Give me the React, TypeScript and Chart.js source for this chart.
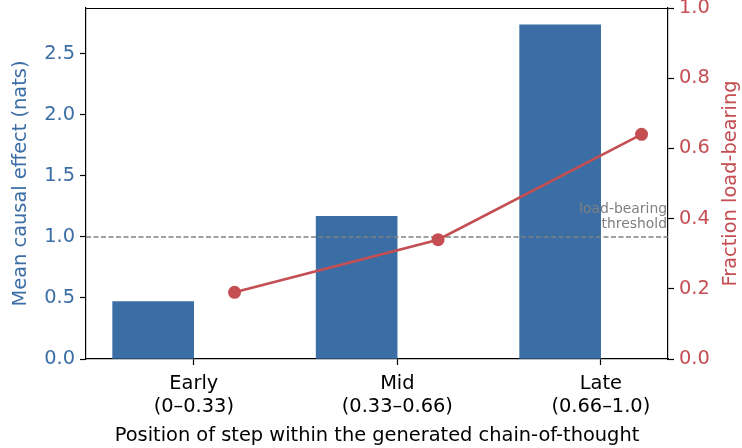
import React, { useEffect, useRef } from "react";
import { Chart, registerables } from "chart.js";

Chart.register(...registerables);

const categories = ["Early", "Mid", "Late"];
const ranges = ["(0–0.33)", "(0.33–0.66)", "(0.66–1.0)"];
const meanEffect = [0.47, 1.17, 2.74];
const fractionLoadBearing = [0.19, 0.34, 0.64];
const leftTicks = [0, 0.5, 1.0, 1.5, 2.0, 2.5];
const rightTicks = [0, 0.2, 0.4, 0.6, 0.8, 1.0];
const threshold = 1.0;
const thresholdLabel = ["load-bearing", "threshold"];

const BLUE = "#3b6ea5";
const RED = "#c44e52";
const GRAY = "#808080";
const FONT = "'DejaVu Sans', sans-serif";
const X_MIN = -0.53;
const X_MAX = 2.33;
const Y_MAX = 2.877;

export default function App() {
  const ref = useRef<HTMLCanvasElement | null>(null);

  useEffect(() => {
    const canvas = ref.current;
    if (!canvas) return;

    const extras = {
      id: "extras",
      afterDraw(chart: any) {
        const { ctx, chartArea } = chart;
        const ys = chart.scales.y;
        ctx.save();
        // top spine
        ctx.strokeStyle = "#000";
        ctx.lineWidth = 1.2;
        ctx.beginPath();
        ctx.moveTo(chartArea.left, chartArea.top + 0.5);
        ctx.lineTo(chartArea.right, chartArea.top + 0.5);
        ctx.stroke();
        // threshold annotation
        const ty = ys.getPixelForValue(threshold);
        ctx.fillStyle = GRAY;
        ctx.font = `13.9px ${FONT}`;
        ctx.textAlign = "right";
        ctx.textBaseline = "middle";
        ctx.fillText(thresholdLabel[0], chartArea.right - 1, ty - 28);
        ctx.fillText(thresholdLabel[1], chartArea.right - 1, ty - 13);
        // right axis title (rotated like matplotlib)
        ctx.fillStyle = RED;
        ctx.font = `19.4px ${FONT}`;
        ctx.textAlign = "center";
        ctx.translate(731, (chartArea.top + chartArea.bottom) / 2);
        ctx.rotate(-Math.PI / 2);
        ctx.fillText("Fraction load-bearing", 0, 0);
        ctx.restore();
      },
    };

    const fixSize = (w?: number, h?: number) => (s: any) => {
      if (w !== undefined) s.width = w;
      if (h !== undefined) s.height = h;
      s.paddingTop = 0;
      s.paddingBottom = 0;
      s.paddingLeft = 0;
      s.paddingRight = 0;
    };

    const chart = new Chart(canvas, {
      type: "bar",
      data: {
        datasets: [
          {
            type: "line",
            label: "Fraction load-bearing",
            data: categories.map((_, i) => ({ x: i + 0.2, y: fractionLoadBearing[i] })),
            yAxisID: "y2",
            borderColor: RED,
            backgroundColor: RED,
            borderWidth: 2.6,
            pointRadius: 6.5,
            pointBackgroundColor: RED,
            pointBorderWidth: 0,
            tension: 0,
            order: 1,
          } as any,
          {
            type: "line",
            label: "threshold",
            data: [
              { x: X_MIN, y: threshold },
              { x: X_MAX, y: threshold },
            ],
            yAxisID: "y",
            borderColor: GRAY,
            borderWidth: 1.4,
            borderDash: [5, 2.5],
            pointRadius: 0,
            order: 2,
          } as any,
          {
            type: "bar",
            label: "Mean causal effect",
            data: categories.map((_, i) => ({ x: i - 0.2, y: meanEffect[i] })),
            yAxisID: "y",
            backgroundColor: BLUE,
            barThickness: 81,
            order: 3,
          } as any,
        ],
      },
      options: {
        responsive: false,
        animation: false,
        layout: { padding: { top: 8, left: 0, right: 0, bottom: 0 } },
        plugins: {
          legend: { display: false },
          tooltip: { enabled: false },
        },
        scales: {
          x: {
            type: "linear",
            position: "bottom",
            offset: false,
            min: X_MIN,
            max: X_MAX,
            afterBuildTicks: (s: any) => {
              s.ticks = categories.map((_, i) => ({ value: i }));
            },
            afterFit: fixSize(undefined, 89),
            ticks: {
              color: "#000",
              font: { family: FONT, size: 19.4, lineHeight: 1.2 },
              padding: 7,
              maxRotation: 0,
              autoSkip: false,
              callback: (v: any) => {
                const i = Math.round(Number(v));
                return [categories[i], ranges[i]];
              },
            },
            grid: {
              offset: false,
              drawOnChartArea: false,
              tickLength: 6,
              tickColor: "#000",
              tickWidth: 1.2,
            },
            border: { display: true, color: "#000", width: 1.2 },
            title: {
              display: true,
              text: "Position of step within the generated chain-of-thought",
              color: "#000",
              font: { family: FONT, size: 19.4, lineHeight: 1.2 },
              padding: { top: 0, bottom: 0 },
            },
          },
          y: {
            type: "linear",
            position: "left",
            min: 0,
            max: Y_MAX,
            afterBuildTicks: (s: any) => {
              s.ticks = leftTicks.map((v) => ({ value: v }));
            },
            afterFit: fixSize(86),
            ticks: {
              color: BLUE,
              font: { family: FONT, size: 19.4 },
              padding: 5,
              callback: (v: any) => Number(v).toFixed(1),
            },
            grid: {
              drawOnChartArea: false,
              tickLength: 6,
              tickColor: "#000",
              tickWidth: 1.2,
            },
            border: { display: true, color: "#000", width: 1.2 },
            title: {
              display: true,
              text: "Mean causal effect (nats)",
              color: BLUE,
              font: { family: FONT, size: 19.4, lineHeight: 1.2 },
              padding: { top: 9, bottom: 0 },
            },
          },
          y2: {
            type: "linear",
            position: "right",
            min: 0,
            max: 1,
            afterBuildTicks: (s: any) => {
              s.ticks = rightTicks.map((v) => ({ value: v }));
            },
            afterFit: fixSize(74),
            ticks: {
              color: RED,
              font: { family: FONT, size: 19.4 },
              padding: 5,
              callback: (v: any) => Number(v).toFixed(1),
            },
            grid: {
              drawOnChartArea: false,
              tickLength: 6,
              tickColor: "#000",
              tickWidth: 1.2,
            },
            border: { display: true, color: "#000", width: 1.2 },
          },
        },
      },
      plugins: [extras],
    } as any);

    return () => chart.destroy();
  }, []);

  return (
    <div style={{ position: "absolute", left: 0, top: 0, width: 742, height: 448, background: "#fff" }}>
      <canvas ref={ref} width={742} height={448} style={{ width: 742, height: 448 }} />
    </div>
  );
}
